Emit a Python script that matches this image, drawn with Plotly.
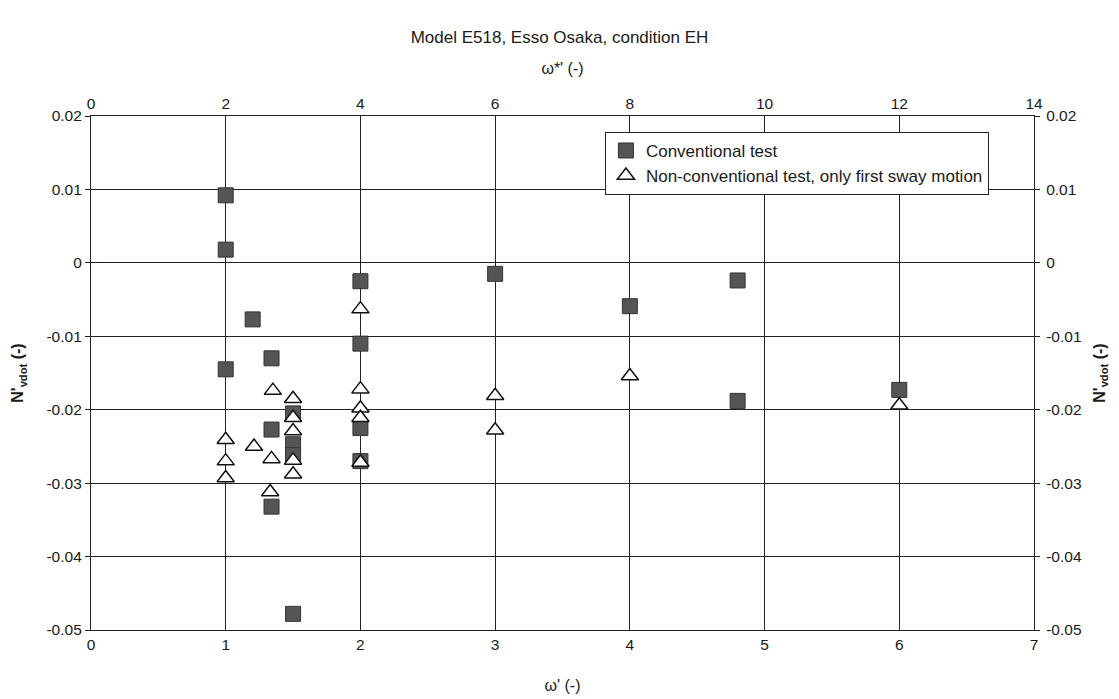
import plotly.graph_objects as go

# Conventional captive tests: non-dimensional frequency and added-mass derivative
conv_omega = [1.0, 1.0, 1.0, 1.2, 1.34, 1.34, 1.34, 1.5, 1.5, 1.5, 1.5,
              2.0, 2.0, 2.0, 2.0, 3.0, 4.0, 4.8, 4.8, 6.0]
conv_nvdot = [0.0092, 0.0018, -0.0145, -0.0077, -0.0130, -0.0227, -0.0332,
              -0.0205, -0.0247, -0.0262, -0.0478,
              -0.0025, -0.0110, -0.0225, -0.0270, -0.0015, -0.0059,
              -0.0024, -0.0188, -0.0173]

# Non-conventional tests, first sway motion only
nonconv_omega = [1.0, 1.0, 1.0, 1.21, 1.35, 1.34, 1.33,
                 1.5, 1.5, 1.5, 1.5, 1.5,
                 2.0, 2.0, 2.0, 2.0, 2.0, 3.0, 3.0, 4.0, 6.0]
nonconv_nvdot = [-0.0241, -0.0270, -0.0293, -0.0250, -0.0174, -0.0267, -0.0312,
                 -0.0185, -0.0211, -0.0229, -0.0269, -0.0288,
                 -0.0063, -0.0172, -0.0198, -0.0211, -0.0272,
                 -0.0181, -0.0228, -0.0154, -0.0194]

x_range = [0, 7]
x2_range = [0, 14]
y_range = [-0.05, 0.02]
y_ticks = [-0.05, -0.04, -0.03, -0.02, -0.01, 0, 0.01, 0.02]
y_ticklabels = ["-0.05", "-0.04", "-0.03", "-0.02", "-0.01", "0", "0.01", "0.02"]

FONT = "Liberation Sans, Arial, sans-serif"
INK = "#1a1a1a"
LINE = "#222222"

fig = go.Figure()

fig.add_trace(go.Scatter(
    x=conv_omega, y=conv_nvdot, mode="markers", name="Conventional test",
    marker=dict(symbol="square", size=15, color="#555555",
                line=dict(color="#333333", width=1)),
))
fig.add_trace(go.Scatter(
    x=nonconv_omega, y=nonconv_nvdot, mode="markers",
    name="Non-conventional test, only first sway motion",
    marker=dict(symbol="triangle-up", size=15, color="white",
                line=dict(color="#111111", width=1.5)),
))
# secondary axes (top omega*' scale and right-hand N'vdot scale)
fig.add_trace(go.Scatter(x=[], y=[], xaxis="x2", yaxis="y2",
                         showlegend=False, hoverinfo="skip"))

tick_font = dict(family=FONT, size=15.5, color=INK)
ytitle = "<b>N'<sub>vdot</sub> (-)</b>"

fig.update_layout(
    width=1119, height=699,
    margin=dict(l=91, r=85, t=116, b=69),
    paper_bgcolor="white", plot_bgcolor="white",
    font=dict(family=FONT, color=INK),
    title=dict(text="Model E518, Esso Osaka, condition EH",
               x=0.5, xanchor="center", y=0.947, yanchor="middle",
               font=dict(family=FONT, size=17, color=INK)),
    xaxis=dict(range=x_range, dtick=1, tick0=0, automargin=False,
               showgrid=True, gridcolor=LINE, gridwidth=1,
               showline=True, linecolor=LINE, linewidth=1.2,
               zeroline=False, ticks="", tickfont=tick_font,
               title=dict(text="ω' (-)", standoff=28,
                          font=dict(family=FONT, size=16, color=INK))),
    xaxis2=dict(range=x2_range, dtick=2, tick0=0, overlaying="x", side="top",
                anchor="y2", automargin=False, showgrid=False, showline=True,
                linecolor=LINE, linewidth=1.2, zeroline=False, ticks="",
                tickfont=tick_font,
                title=dict(text="ω*' (-)", standoff=16,
                           font=dict(family=FONT, size=16, color=INK))),
    yaxis=dict(range=y_range, tickvals=y_ticks, ticktext=y_ticklabels,
               automargin=False,
               showgrid=True, gridcolor=LINE, gridwidth=1,
               showline=True, linecolor=LINE, linewidth=1.2,
               zeroline=False, ticks="outside", ticklen=5, tickcolor=LINE,
               tickfont=tick_font,
               title=dict(text=ytitle, standoff=18,
                          font=dict(family=FONT, size=16, color=INK))),
    yaxis2=dict(range=y_range, tickvals=y_ticks, ticktext=y_ticklabels,
                overlaying="y", side="right", anchor="x2", automargin=False,
                showgrid=False, showline=True, linecolor=LINE, linewidth=1.2,
                zeroline=False, ticks="outside", ticklen=5, tickcolor=LINE,
                tickfont=tick_font, ticklabelstandoff=3,
                title=dict(text=ytitle, standoff=12,
                           font=dict(family=FONT, size=16, color=INK))),
    legend=dict(x=0.545, y=0.969, xanchor="left", yanchor="top",
                bgcolor="white", bordercolor=LINE, borderwidth=1,
                font=dict(family=FONT, size=17, color=INK),
                itemwidth=30),
    showlegend=True,
)

fig.write_html("out.html")
